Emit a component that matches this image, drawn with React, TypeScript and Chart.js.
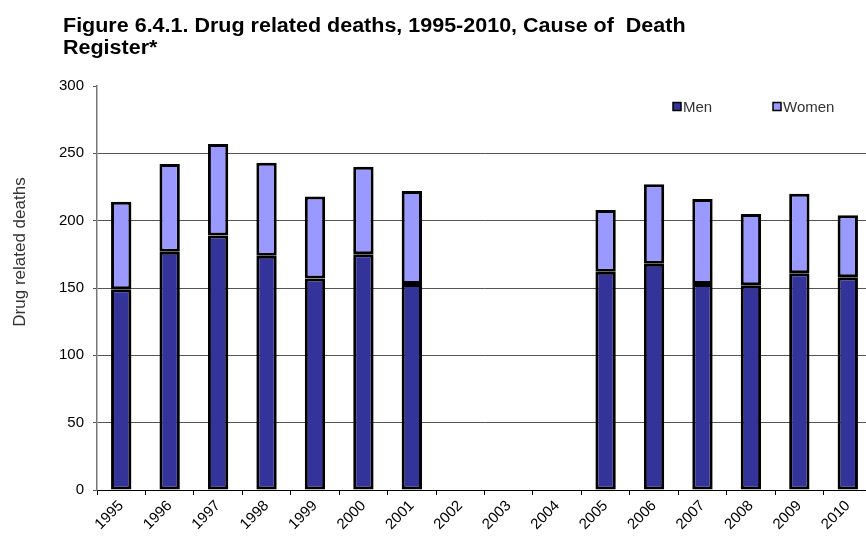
import React, { useEffect, useRef } from "react";
import { Chart, registerables } from "chart.js";

Chart.register(...registerables);

const years = ["1995", "1996", "1997", "1998", "1999", "2000", "2001", "2002", "2003", "2004", "2005", "2006", "2007", "2008", "2009", "2010"];
const men = [149, 177, 189, 174, 157, 175, 153, null, null, null, 162, 168, 153, 152, 161, 158];
const women = [65, 65, 68, 69, 61, 65, 69, null, null, null, 46, 59, 63, 53, 59, 46];
const seriesNames = ["Men", "Women"];
const seriesColors = ["#333399", "#9999FF"];
const yMin = 0;
const yMax = 300;
const yStep = 50;
const titleLines = ["Figure 6.4.1. Drug related deaths, 1995-2010, Cause of  Death", "Register*"];
const yTitle = "Drug related deaths";

const FONT = "'Liberation Sans', Arial, sans-serif";

const decorPlugin = {
  id: "decor",
  afterDraw(chart: any) {
    const ctx = chart.ctx;
    // legend
    const xs = [673, 773];
    const yc = 106.5;
    ctx.save();
    chart.data.datasets.forEach((ds: any, i: number) => {
      ctx.fillStyle = ds.backgroundColor;
      ctx.fillRect(xs[i], yc - 4, 8, 8);
      ctx.strokeStyle = "#000";
      ctx.lineWidth = 1.5;
      ctx.strokeRect(xs[i], yc - 4, 8, 8);
      ctx.fillStyle = "#333";
      ctx.font = `15px ${FONT}`;
      ctx.textBaseline = "middle";
      ctx.textAlign = "left";
      ctx.fillText(ds.label, xs[i] + 10, yc + 1);
    });
    // y axis title
    ctx.translate(20, 252);
    ctx.rotate(-Math.PI / 2);
    ctx.fillStyle = "#333";
    ctx.font = `17px ${FONT}`;
    ctx.textAlign = "center";
    ctx.textBaseline = "middle";
    ctx.fillText(yTitle, 0, 0);
    ctx.restore();
  },
};

export default function App() {
  const ref = useRef<HTMLCanvasElement | null>(null);

  useEffect(() => {
    if (!ref.current) return;
    const chart = new Chart(ref.current, {
      type: "bar",
      data: {
        labels: years,
        datasets: [
          {
            label: seriesNames[0],
            data: men,
            backgroundColor: seriesColors[0],
            borderColor: "#000",
            borderWidth: 3,
            borderSkipped: false,
            categoryPercentage: 0.84,
            barPercentage: 0.5,
          },
          {
            label: seriesNames[1],
            data: women,
            backgroundColor: seriesColors[1],
            borderColor: "#000",
            borderWidth: 3,
            borderSkipped: false,
            categoryPercentage: 0.84,
            barPercentage: 0.5,
          },
        ],
      },
      options: {
        responsive: false,
        animation: false,
        layout: { padding: { left: 0, top: 86, right: 28, bottom: 0 } },
        plugins: {
          legend: { display: false },
          title: { display: false },
          tooltip: { enabled: false },
        },
        scales: {
          x: {
            stacked: true,
            offset: true,
            afterFit(scale: any) {
              scale.height = 48;
            },
            grid: {
              offset: true,
              drawOnChartArea: false,
              drawTicks: true,
              tickLength: 5,
              color: "#000",
            },
            border: { color: "#000", width: 1 },
            ticks: {
              minRotation: 45,
              maxRotation: 45,
              autoSkip: false,
              padding: 2,
              color: "#000",
              font: { family: FONT, size: 15 },
            },
          },
          y: {
            stacked: true,
            min: yMin,
            max: yMax,
            afterFit(scale: any) {
              scale.width = 97;
            },
            ticks: {
              stepSize: yStep,
              padding: 9,
              color: "#000",
              font: { family: FONT, size: 15 },
            },
            grid: {
              tickLength: 4,
              color: (c: any) => (c.tick && c.tick.value === yMax ? "rgba(0,0,0,0)" : "#555"),
              tickColor: "#555",
            },
            border: { color: "#777", width: 1.5 },
            title: { display: false },
          },
        },
      },
      plugins: [decorPlugin],
    });
    return () => chart.destroy();
  }, []);

  return (
    <div style={{ position: "fixed", left: 0, top: 0, width: 866, height: 538, overflow: "hidden", background: "#fff" }}>
      <canvas ref={ref} width={900} height={538} style={{ position: "absolute", left: 0, top: 0, width: 900, height: 538 }} />
      <div
        style={{
          position: "absolute",
          left: 63,
          top: 14,
          fontFamily: FONT,
          fontWeight: "bold",
          fontSize: 20,
          lineHeight: "22px",
          color: "#000",
          whiteSpace: "pre",
          transformOrigin: "0 0",
          transform: "scaleX(1.075)",
        }}
      >
        {titleLines.map((t, i) => (
          <div key={i}>{t}</div>
        ))}
      </div>
    </div>
  );
}
